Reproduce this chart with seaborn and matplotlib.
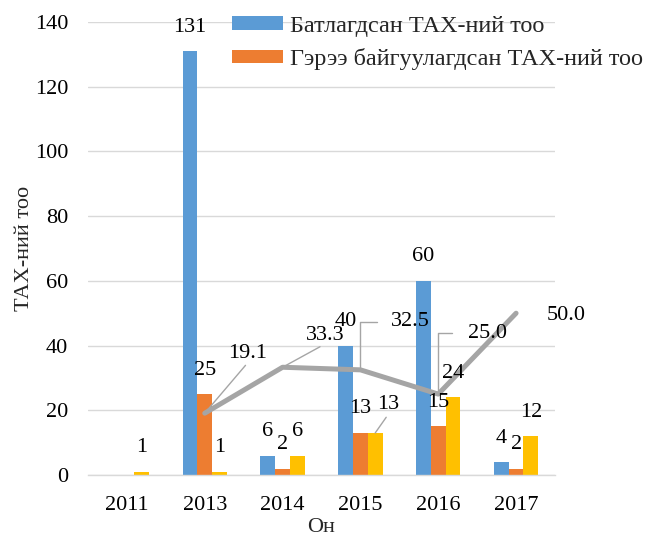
import numpy as np
import pandas as pd
import matplotlib
matplotlib.use("Agg")
import matplotlib.pyplot as plt
from matplotlib.patches import Patch
import seaborn as sns

# ---- data ----
years = ["2011", "2013", "2014", "2015", "2016", "2017"]
series_names = ["Батлагдсан ТАХ-ний тоо", "Гэрээ байгуулагдсан ТАХ-ний тоо", "Цуврал 3"]
approved = [0, 131, 6, 40, 60, 4]
contracted = [0, 25, 2, 13, 15, 2]
third = [1, 1, 6, 13, 24, 12]
percent = [np.nan, 19.1, 33.3, 32.5, 25.0, 50.0]
y_ticks = [0, 20, 40, 60, 80, 100, 120, 140]
x_label = "Он"
y_label = "ТАХ-ний тоо"

colors = ["#5B9BD5", "#ED7D31", "#FFC000"]
line_color = "#A5A5A5"
grid_color = "#D9D9D9"
FS = 16
LFS = 17.5

sns.set_theme(style="white")
plt.rcParams["font.family"] = ["Liberation Serif", "DejaVu Serif"]


def px(v):
    return v * 72.0 / 100.0


df = pd.DataFrame({
    "year": years * 3,
    "series": np.repeat(series_names, len(years)),
    "value": approved + contracted + third,
})
line_df = pd.DataFrame({"year": years, "pct": percent})

fig = plt.figure(figsize=(6.5, 5.37), dpi=100)
ax = fig.add_axes([88 / 650, 1 - 475 / 537, (555 - 88) / 650, (475 - 22) / 537])

sns.barplot(data=df, x="year", y="value", hue="series", order=years,
            hue_order=series_names, palette=dict(zip(series_names, colors)),
            width=0.57, saturation=1, linewidth=0, legend=False,
            errorbar=None, ax=ax, zorder=2)
sns.pointplot(data=line_df, x="year", y="pct", order=years, color=line_color,
              markers="", errorbar=None, linewidth=3.6, ax=ax,
              solid_capstyle="round", zorder=3)

ax.set_xlim(-0.5, len(years) - 0.5)
ax.set_ylim(0, 140)
ax.set_yticks(y_ticks)
ax.set_axisbelow(True)
ax.yaxis.grid(True, color=grid_color, linewidth=1.0)
ax.xaxis.grid(False)
for s in ["left", "right", "top"]:
    ax.spines[s].set_visible(False)
ax.spines["bottom"].set_color(grid_color)
ax.spines["bottom"].set_linewidth(1.0)
ax.tick_params(axis="both", length=0, labelsize=FS, colors="black")
ax.tick_params(axis="y", pad=px(20))
ax.tick_params(axis="x", pad=px(21))
ax.set_xlabel(x_label, fontsize=FS, labelpad=px(3))
ax.set_ylabel(y_label, fontsize=FS, labelpad=px(1))

# ---- bar value labels ----
overrides = {(2, 3): ((13, 28), dict(relpos=(0.5, 0.0), shrinkA=2.5))}
for si, cont in enumerate(ax.containers[:3]):
    for ci, bar in enumerate(cont):
        h = bar.get_height()
        if not h:
            continue
        x = bar.get_x() + bar.get_width() / 2
        (dx, dy), arrow = overrides.get((si, ci), ((0, 24), None))
        kw = {}
        if arrow is not None:
            kw["arrowprops"] = dict(arrowstyle="-", color=line_color, lw=1.0,
                                    patchA=None, shrinkB=0, **arrow)
        ax.annotate(f"{int(h)}", xy=(x, h), xytext=(px(dx), px(dy)),
                    textcoords="offset points", ha="center", va="center",
                    fontsize=FS, color="black", zorder=5, **kw)

# ---- line value labels ----
line_offsets = [(43, 60), (43, 32), (50, 48), (49, 61), (50, -2)]
line_arrows = [
    dict(relpos=(0.5, 0.0), shrinkA=2.5),
    dict(relpos=(0.45, 0.0), shrinkA=3),
    dict(relpos=(0.0, 0.5), shrinkA=10, connectionstyle="angle,angleA=180,angleB=90,rad=0"),
    dict(relpos=(0.0, 0.5), shrinkA=11, connectionstyle="angle,angleA=180,angleB=90,rad=0"),
    None,
]
pts = ax.lines[-1].get_xydata()
pts = pts[np.isfinite(pts[:, 1])]
for (x, y), (dx, dy), arrow in zip(pts, line_offsets, line_arrows):
    kw = {}
    if arrow is not None:
        kw["arrowprops"] = dict(arrowstyle="-", color=line_color, lw=1.0,
                                patchA=None, shrinkB=0, **arrow)
    ax.annotate(f"{y:.1f}", xy=(x, y), xytext=(px(dx), px(dy)),
                textcoords="offset points", ha="center", va="center",
                fontsize=FS, color="black", zorder=5, **kw)

# ---- legend ----
handles = [Patch(facecolor=colors[0], edgecolor="none"),
           Patch(facecolor=colors[1], edgecolor="none")]
fig.legend(handles, series_names[:2], loc="upper left",
           bbox_to_anchor=(232 / 650, 1 - 16 / 537), frameon=False,
           fontsize=LFS, handlelength=2.1, handleheight=0.5,
           handletextpad=0.3, labelspacing=0.46, borderpad=0,
           borderaxespad=0)

fig.savefig("out.png", dpi=100)
